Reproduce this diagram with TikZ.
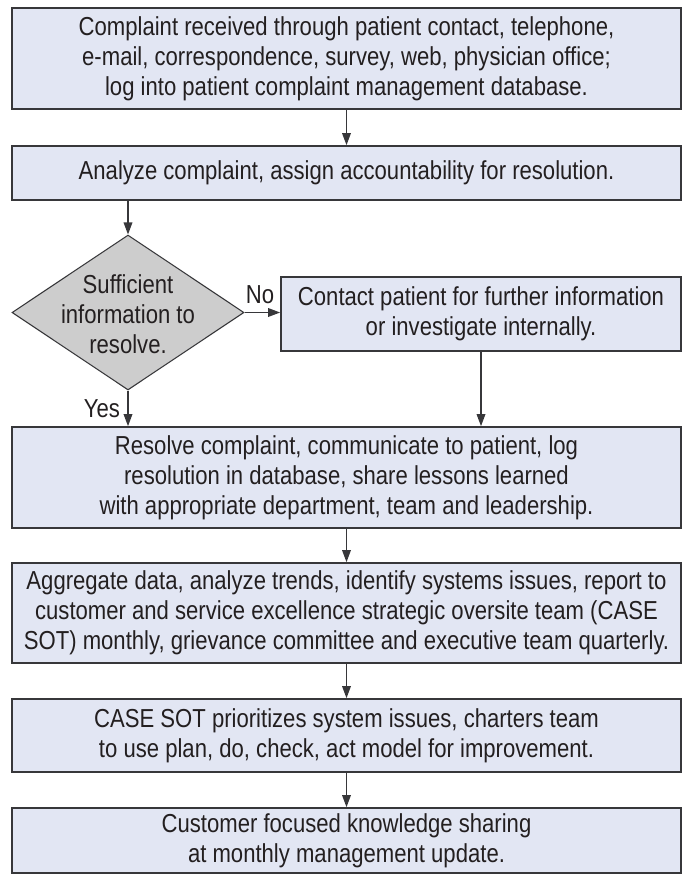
\documentclass[tikz,border=0pt]{standalone}
\usepackage{fontspec}
\setmainfont{Liberation Sans}[FakeStretch=0.85]
\usetikzlibrary{shapes.geometric,arrows.meta}
\definecolor{boxfill}{RGB}{226,230,243}
\definecolor{diafill}{RGB}{205,205,205}
\definecolor{linecol}{RGB}{55,55,58}
\definecolor{txtcol}{RGB}{35,31,32}
\begin{document}
\begin{tikzpicture}[x=0.75pt,y=-0.75pt,
  box/.style={draw=linecol, fill=boxfill, line width=1.3pt, inner sep=0pt, align=center,
    text=txtcol, font=\fontsize{19.5}{22.5}\selectfont},
  dia/.style={diamond, draw=linecol, fill=diafill, line width=0.8pt, inner sep=0pt},
  lbl/.style={text=txtcol, font=\fontsize{19.5}{22.5}\selectfont, inner sep=0pt, align=center},
  arr/.style={draw=linecol, line width=0.9pt, -{Triangle[length=9pt,width=6.5pt]}}]
\useasboundingbox (0,0) rectangle (684,875);

\node[box, minimum width=501.75pt, minimum height=75.75pt] (b1) at (346.5,58.5)
  {Complaint received through patient contact, telephone,\\
   e-mail, correspondence, survey, web, physician office;\\
   log into patient complaint management database.};
\node[box, minimum width=501.75pt, minimum height=40.5pt] (b2) at (346.5,173)
  {Analyze complaint, assign accountability for resolution.};
\node[dia, minimum width=174pt, minimum height=116.25pt] (d) at (128,312.5) {};
\node[lbl] (dt) at (128,314) {Sufficient\\information to\\resolve.};
\node[box, minimum width=300pt, minimum height=55.5pt] (c) at (481,314)
  {Contact patient for further information\\or investigate internally.};
\node[box, minimum width=501.75pt, minimum height=75.75pt] (b3) at (346.5,477.5)
  {Resolve complaint, communicate to patient, log\\
   resolution in database, share lessons learned\\
   with appropriate department, team and leadership.};
\node[box, minimum width=501.75pt, minimum height=75pt] (b4) at (346.5,613)
  {Aggregate data, analyze trends, identify systems issues, report to\\
   customer and service excellence strategic oversite team (CASE\\
   SOT) monthly, grievance committee and executive team quarterly.};
\node[box, minimum width=501.75pt, minimum height=54.75pt] (b5) at (346.5,735.5)
  {CASE SOT prioritizes system issues, charters team\\
   to use plan, do, check, act model for improvement.};
\node[box, minimum width=501.75pt, minimum height=48.75pt] (b6) at (346.5,840.5)
  {Customer focused knowledge sharing\\at monthly management update.};

\node[lbl] (no) at (260,295) {No};
\node[lbl] (yes) at (102,409) {Yes};

\draw[arr] (b1.south) -- (b2.north);
\draw[arr] (b2.south -| d.north) -- (d.north);
\draw[arr] (d.east) -- (c.west |- d.east);
\draw[arr] (d.south) -- (d.south |- b3.north);
\draw[arr] (c.south) -- (c.south |- b3.north);
\draw[arr] (b3.south) -- (b4.north);
\draw[arr] (b4.south) -- (b5.north);
\draw[arr] (b5.south) -- (b6.north);
\end{tikzpicture}
\end{document}
